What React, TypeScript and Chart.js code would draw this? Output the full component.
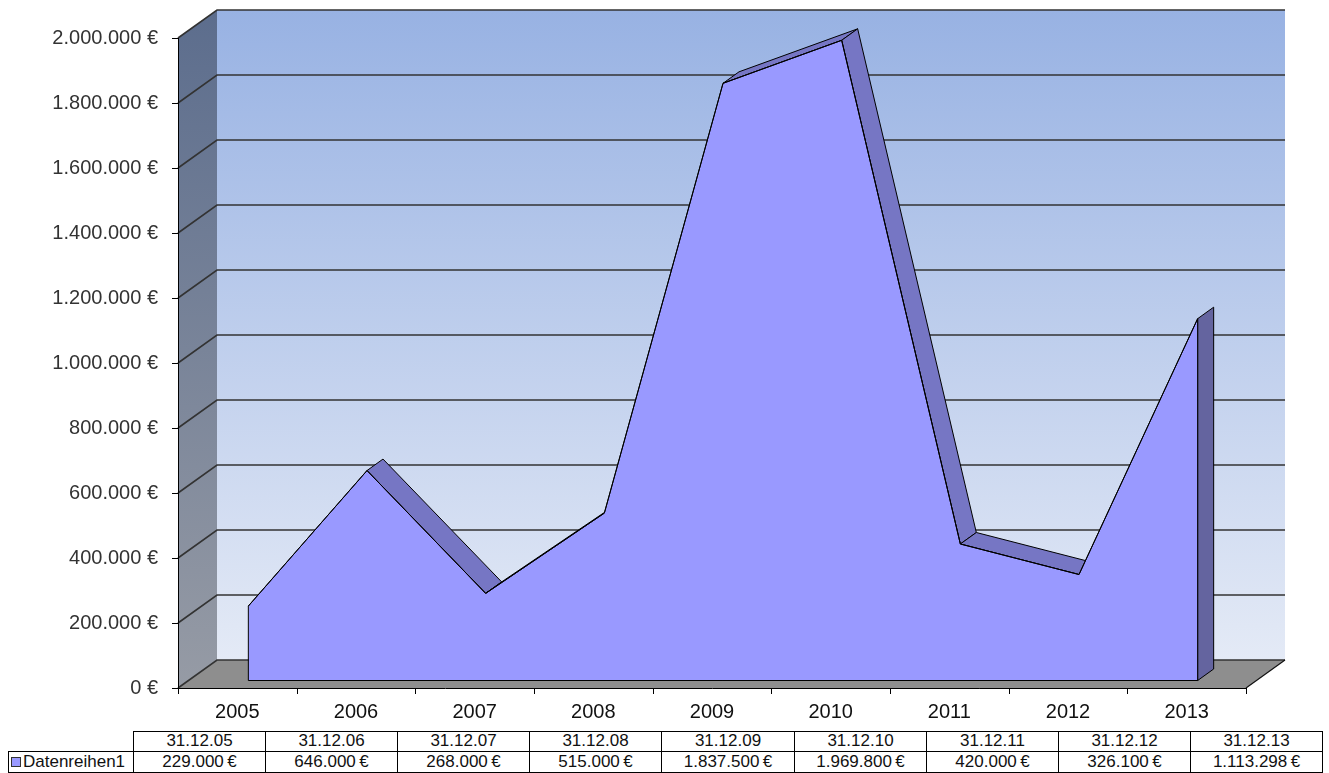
import { useEffect, useRef } from 'react';
import { Chart, registerables } from 'chart.js';

Chart.register(...registerables);

// ---- data ----
const years = ['2005', '2006', '2007', '2008', '2009', '2010', '2011', '2012', '2013'];
const dates = ['31.12.05', '31.12.06', '31.12.07', '31.12.08', '31.12.09', '31.12.10', '31.12.11', '31.12.12', '31.12.13'];
const values = [229000, 646000, 268000, 515000, 1837500, 1969800, 420000, 326100, 1113298];
const seriesName = 'Datenreihen1';
const yMin = 0;
const yMax = 2000000;
const yStep = 200000;

// German number format with euro sign
const euro = (v: number, sep = ' ') =>
  Math.round(v).toString().replace(/\B(?=(\d{3})+(?!\d))/g, '.') + sep + '€';

// ---- 3D projection offsets (screen px) ----
const RIBBON_FRONT = { x: 11, y: -7.5 };
const RIBBON_BACK = { x: 27, y: -19 };
const WALL = { x: 39, y: -28 };

const FONT = "'Liberation Sans', Arial, sans-serif";
const AREA_COLOR = '#9999ff';
const TOP_FACE = '#7676c4';
const SIDE_FACE = '#64649f';

// Side wall, back wall, floor and gridlines of the 3D room
const room3d = {
  id: 'room3d',
  beforeDraw(chart: any) {
    const { ctx, chartArea } = chart;
    const { left, right, top, bottom } = chartArea;
    const ys = chart.scales.y;
    const xs = chart.scales.x;
    ctx.save();

    // side wall
    let g = ctx.createLinearGradient(0, top + WALL.y, 0, bottom);
    g.addColorStop(0, '#5c6d8d');
    g.addColorStop(1, '#969ba5');
    ctx.fillStyle = g;
    ctx.beginPath();
    ctx.moveTo(left, top);
    ctx.lineTo(left + WALL.x, top + WALL.y);
    ctx.lineTo(left + WALL.x, bottom + WALL.y);
    ctx.lineTo(left, bottom);
    ctx.closePath();
    ctx.fill();

    // back wall
    g = ctx.createLinearGradient(0, top + WALL.y, 0, bottom + WALL.y);
    g.addColorStop(0, '#98b2e3');
    g.addColorStop(1, '#e4eaf6');
    ctx.fillStyle = g;
    ctx.fillRect(left + WALL.x, top + WALL.y, right - left, bottom - top);

    // floor
    ctx.fillStyle = '#8e8e8e';
    ctx.beginPath();
    ctx.moveTo(left, bottom);
    ctx.lineTo(left + WALL.x, bottom + WALL.y);
    ctx.lineTo(right + WALL.x, bottom + WALL.y);
    ctx.lineTo(right, bottom);
    ctx.closePath();
    ctx.fill();

    // gridlines along side wall and back wall
    ctx.strokeStyle = '#333';
    ctx.lineWidth = 1.6;
    ys.ticks.forEach((t: any) => {
      const py = ys.getPixelForValue(t.value);
      ctx.beginPath();
      ctx.moveTo(left, py);
      ctx.lineTo(left + WALL.x, py + WALL.y);
      ctx.lineTo(right + WALL.x, py + WALL.y);
      ctx.stroke();
    });

    // floor right edge
    ctx.strokeStyle = '#111';
    ctx.lineWidth = 1.2;
    ctx.beginPath();
    ctx.moveTo(right, bottom);
    ctx.lineTo(right + WALL.x, bottom + WALL.y);
    ctx.stroke();

    // front axes
    ctx.strokeStyle = '#000';
    ctx.lineWidth = 1;
    ctx.beginPath();
    ctx.moveTo(left + 0.5, top);
    ctx.lineTo(left + 0.5, bottom + 0.5);
    ctx.lineTo(right, bottom + 0.5);
    ctx.stroke();

    // y tick marks
    ctx.beginPath();
    ys.ticks.forEach((t: any) => {
      const py = Math.round(ys.getPixelForValue(t.value)) + 0.5;
      ctx.moveTo(left - 6, py);
      ctx.lineTo(left, py);
    });
    // x tick marks at category boundaries
    const half = (xs.getPixelForValue(1) - xs.getPixelForValue(0)) / 2;
    for (let i = 0; i <= years.length; i++) {
      const px = Math.round(xs.getPixelForValue(0) - half + i * 2 * half) + 0.5;
      ctx.moveTo(px, bottom);
      ctx.lineTo(px, bottom + 6);
    }
    ctx.stroke();
    ctx.restore();
  },
};

// Depth faces of the area ribbon; the dataset itself is drawn on the front plane of the ribbon
const ribbon3d = {
  id: 'ribbon3d',
  beforeDatasetsDraw(chart: any) {
    const { ctx } = chart;
    const ys = chart.scales.y;
    const pts = chart.getDatasetMeta(0).data.map((p: any) => ({ x: p.x, y: p.y }));
    const base = ys.getPixelForValue(0);
    const d = { x: RIBBON_BACK.x - RIBBON_FRONT.x, y: RIBBON_BACK.y - RIBBON_FRONT.y };
    const F = (p: any) => ({ x: p.x + RIBBON_FRONT.x, y: p.y + RIBBON_FRONT.y });
    const B = (p: any) => ({ x: p.x + RIBBON_BACK.x, y: p.y + RIBBON_BACK.y });

    ctx.save();
    ctx.strokeStyle = '#000';
    ctx.lineWidth = 1;
    ctx.lineJoin = 'round';

    // top surfaces facing the viewer
    for (let i = 0; i < pts.length - 1; i++) {
      const a = F(pts[i]);
      const b = F(pts[i + 1]);
      const ux = b.x - a.x;
      const uy = b.y - a.y;
      if (ux * d.y - uy * d.x >= 0) continue;
      const a2 = B(pts[i]);
      const b2 = B(pts[i + 1]);
      ctx.fillStyle = TOP_FACE;
      ctx.beginPath();
      ctx.moveTo(a.x, a.y);
      ctx.lineTo(b.x, b.y);
      ctx.lineTo(b2.x, b2.y);
      ctx.lineTo(a2.x, a2.y);
      ctx.closePath();
      ctx.fill();
      ctx.stroke();
    }

    // right end face
    const last = pts[pts.length - 1];
    const lb = { x: last.x, y: base };
    const p1 = F(last), p2 = F(lb), p3 = B(lb), p4 = B(last);
    ctx.fillStyle = SIDE_FACE;
    ctx.beginPath();
    ctx.moveTo(p1.x, p1.y);
    ctx.lineTo(p2.x, p2.y);
    ctx.lineTo(p3.x, p3.y);
    ctx.lineTo(p4.x, p4.y);
    ctx.closePath();
    ctx.fill();
    ctx.stroke();
    ctx.restore();

    // shift the dataset onto the ribbon's front plane
    ctx.save();
    ctx.translate(RIBBON_FRONT.x, RIBBON_FRONT.y);
  },
  afterDatasetsDraw(chart: any) {
    const { ctx } = chart;
    const ys = chart.scales.y;
    const pts = chart.getDatasetMeta(0).data;
    const base = ys.getPixelForValue(0);
    // outline of the front face
    ctx.strokeStyle = '#000';
    ctx.lineWidth = 1;
    ctx.lineJoin = 'round';
    ctx.beginPath();
    ctx.moveTo(pts[0].x, base);
    pts.forEach((p: any) => ctx.lineTo(p.x, p.y));
    ctx.lineTo(pts[pts.length - 1].x, base);
    ctx.closePath();
    ctx.stroke();
    ctx.restore();
  },
};

export default function App() {
  const canvasRef = useRef<HTMLCanvasElement | null>(null);

  useEffect(() => {
    const canvas = canvasRef.current;
    if (!canvas) return;
    const chart = new Chart(canvas, {
      type: 'line',
      data: {
        labels: years,
        datasets: [
          {
            label: seriesName,
            data: values,
            backgroundColor: AREA_COLOR,
            borderColor: '#000',
            borderWidth: 1,
            fill: 'origin',
            tension: 0,
            pointRadius: 0,
            pointHoverRadius: 0,
          },
        ],
      },
      options: {
        responsive: false,
        animation: false,
        devicePixelRatio: 1,
        layout: { padding: { left: 0, right: 83, top: 38, bottom: 0 } },
        plugins: {
          legend: { display: false },
          tooltip: { enabled: false },
        },
        scales: {
          x: {
            type: 'category',
            offset: true,
            grid: { display: false, drawTicks: false },
            border: { display: false },
            ticks: {
              padding: 12,
              color: '#111',
              font: { family: FONT, size: 20 },
              maxRotation: 0,
              autoSkip: false,
            },
            afterFit: (s: any) => {
              s.height = 43;
            },
          },
          y: {
            min: yMin,
            max: yMax,
            grid: { display: false, drawTicks: false },
            border: { display: false },
            ticks: {
              stepSize: yStep,
              padding: 20,
              color: '#333',
              font: { family: FONT, size: 20 },
              callback: (v: any) => euro(Number(v)),
            },
            afterFit: (s: any) => {
              s.width = 178;
            },
          },
        },
      },
      plugins: [room3d, ribbon3d],
    });
    return () => chart.destroy();
  }, []);

  const tableLeft = 133;
  const tableRight = 1322;
  const colW = (tableRight - tableLeft) / dates.length;
  const cell = (left: number, top: number, width: number, height: number): any => ({
    position: 'absolute',
    left,
    top,
    width,
    height,
    boxSizing: 'border-box',
    border: '1px solid #000',
    fontFamily: FONT,
    fontSize: 17,
    color: '#111',
    lineHeight: `${height - 3}px`,
    textAlign: 'center',
    whiteSpace: 'nowrap',
    overflow: 'hidden',
  });

  return (
    <div style={{ position: 'absolute', left: 0, top: 0, width: 1329, height: 773, overflow: 'hidden', background: '#fff' }}>
      <canvas ref={canvasRef} width={1329} height={731} style={{ position: 'absolute', left: 0, top: 0 }} />
      {dates.map((d, i) => {
        const l = Math.round(tableLeft + i * colW);
        const r = Math.round(tableLeft + (i + 1) * colW);
        return (
          <div key={'d' + i} style={cell(l, 731, r - l + 1, 21)}>
            {d}
          </div>
        );
      })}
      <div style={{ ...cell(8, 751, tableLeft - 8 + 1, 22), textAlign: 'left', paddingLeft: 2 }}>
        <span
          style={{
            display: 'inline-block',
            width: 8,
            height: 8,
            background: AREA_COLOR,
            border: '1px solid #333',
            marginRight: 2,
            verticalAlign: 'middle',
            position: 'relative',
            top: -1,
          }}
        />
        {seriesName}
      </div>
      {values.map((v, i) => {
        const l = Math.round(tableLeft + i * colW);
        const r = Math.round(tableLeft + (i + 1) * colW);
        return (
          <div key={'v' + i} style={cell(l, 751, r - l + 1, 22)}>
            {euro(v, '\u2009')}
          </div>
        );
      })}
    </div>
  );
}
